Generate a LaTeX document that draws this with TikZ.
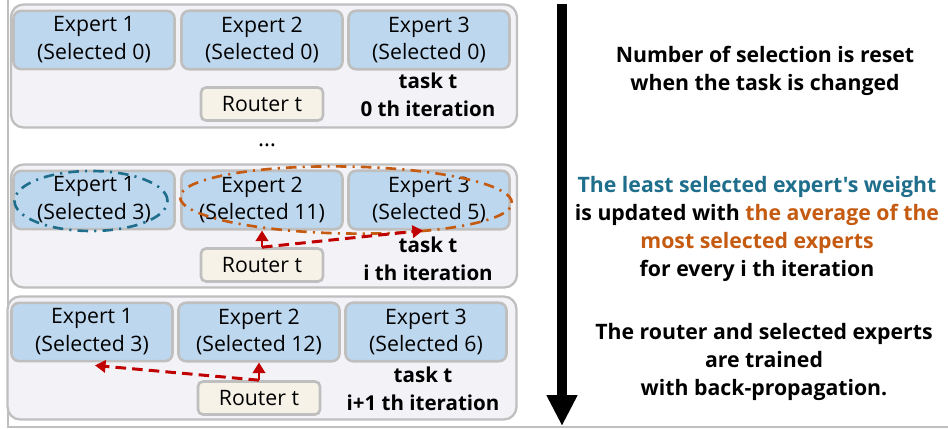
\documentclass[tikz,border=0pt]{standalone}
\usepackage{fontspec}
\setmainfont{Open Sans}[Ligatures=TeXOff]
\usetikzlibrary{positioning,arrows.meta,calc,shapes.geometric}
\usepackage{xcolor}
\definecolor{expertfill}{HTML}{BDD7EE}
\definecolor{boxgray}{HTML}{BFBFBF}
\definecolor{panelfill}{HTML}{F2F2F7}
\definecolor{routerfill}{HTML}{F6F2E8}
\definecolor{leastblue}{HTML}{1F6E8C}
\definecolor{mostorange}{HTML}{C55A11}
\definecolor{updred}{HTML}{C00000}

\begin{document}
\begin{tikzpicture}[x=0.02cm, y=-0.02cm,
  panel/.style={draw=boxgray, line width=1.3pt, fill=panelfill, rounded corners=0.25cm,
    minimum width=10.12cm, minimum height=2.46cm},
  expert/.style={draw=boxgray, line width=1.5pt, fill=expertfill, rounded corners=0.15cm,
    minimum width=3.22cm, minimum height=1.12cm, font=\fontsize{12.1}{15.9}\selectfont, align=center},
  router/.style={draw=boxgray, line width=1.5pt, fill=routerfill, rounded corners=0.1cm,
    minimum width=2.44cm, minimum height=0.66cm, font=\fontsize{12.1}{13}\selectfont},
  tasklbl/.style={font=\fontsize{11.7}{15.9}\selectfont\bfseries, align=center},
  note/.style={font=\fontsize{12.1}{15.9}\selectfont\bfseries, align=center},
  oval/.style={ellipse, draw, line width=1.5pt, dash pattern=on 6pt off 3.5pt on 1.2pt off 3.5pt},
  selarrow/.style={draw=updred, line width=1.7pt, -{Triangle[width=7pt,length=6pt]}},
  >=Stealth
]
  \useasboundingbox (0,0) rectangle (948,429);
  \draw[boxgray, line width=0.6pt] (8,0) -- (8,427) -- (948,427);

  % task t, 0 th iteration
  \node[panel] (p1) at (264,66) {};
  \node[expert] (e11) at (94,40) {Expert 1\\(Selected 0)};
  \node[expert] (e12) at (262,40) {Expert 2\\(Selected 0)};
  \node[expert] (e13) at (429,40) {Expert 3\\(Selected 0)};
  \node[router] (r1) at (262,104) {Router t};
  \node[tasklbl] (t1) at (428,95) {task t\\0 th iteration};

  \node[font=\fontsize{13}{13}\selectfont] (dots) at (267,145) {\dots};

  % task t, i th iteration
  \node[panel] (p2) at (264,226) {};
  \node[expert] (e21) at (94,200) {Expert 1\\(Selected 3)};
  \node[expert] (e22) at (262,200) {Expert 2\\(Selected 11)};
  \node[expert] (e23) at (429,200) {Expert 3\\(Selected 5)};
  \node[router] (r2) at (262,265) {Router t};
  \node[tasklbl] (t2) at (428,259) {task t\\i th iteration};
  \node[oval, draw=leastblue, minimum width=3.06cm, minimum height=1.2cm] (least) at (91,201) {};
  \node[oval, draw=mostorange, minimum width=6.64cm, minimum height=1.34cm, rotate=-1] (most) at (346,200) {};
  \draw[selarrow] (r2.north) -- (e22.south);
  \draw[selarrow, dash pattern=on 6pt off 3.5pt] (r2.north) -- ([xshift=-0.12cm]e23.south);

  % task t, i+1 th iteration
  \node[panel, minimum width=10.18cm] (p3) at (262,358) {};
  \node[expert] (e31) at (92,332) {Expert 1\\(Selected 3)};
  \node[expert] (e32) at (259,332) {Expert 2\\(Selected 12)};
  \node[expert] (e33) at (426,332) {Expert 3\\(Selected 6)};
  \node[router] (r3) at (259,398) {Router t};
  \node[tasklbl] (t3) at (423,389) {task t\\i+1 th iteration};
  \draw[selarrow] (r3.north) -- (e32.south);
  \draw[selarrow, dash pattern=on 6pt off 3.5pt] (r3.north) -- ([xshift=0.06cm,yshift=-0.06cm]e31.south);

  % time axis and notes
  \coordinate (start) at (562,4);
  \coordinate (finish) at (562,426);
  \draw[line width=0.2cm, -{Triangle[width=0.58cm,length=0.62cm]}] (start) -- (finish);
  \node[note] (reset) at (765,71) {Number of selection is reset\\when the task is changed};
  \node[note] (update) at (757,229) {\textcolor{leastblue}{The least selected expert's weight}\\
    is updated with \textcolor{mostorange}{the average of the}\\
    \textcolor{mostorange}{most selected experts}\\for every i th iteration};
  \node[note] (train) at (764,362) {The router and selected experts\\are trained\\with back-propagation.};
\end{tikzpicture}
\end{document}
